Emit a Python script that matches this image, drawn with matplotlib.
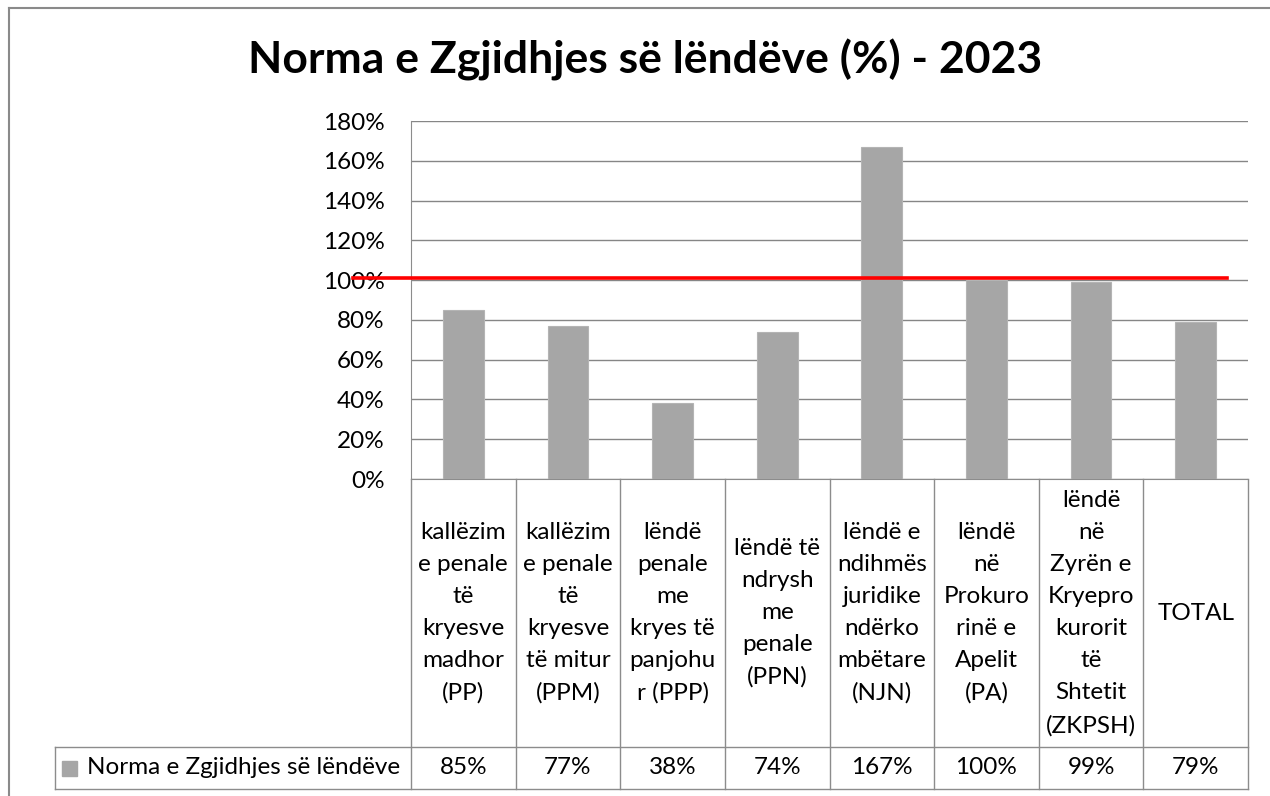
import matplotlib
matplotlib.use("Agg")
import matplotlib.pyplot as plt
from matplotlib.lines import Line2D
from matplotlib.patches import Rectangle
from matplotlib.ticker import PercentFormatter

plt.rcParams['font.family'] = ['Lato', 'DejaVu Sans']

# data
title = "Norma e Zgjidhjes së lëndëve (%) - 2023"
series_name = "Norma e Zgjidhjes së lëndëve"
categories = [
    "kallëzim\ne penale\ntë\nkryesve\nmadhor\n(PP)",
    "kallëzim\ne penale\ntë\nkryesve\ntë mitur\n(PPM)",
    "lëndë\npenale\nme\nkryes të\npanjohu\nr (PPP)",
    "lëndë të\nndrysh\nme\npenale\n(PPN)",
    "lëndë e\nndihmës\njuridike\nndërko\nmbëtare\n(NJN)",
    "lëndë\nnë\nProkuro\nrinë e\nApelit\n(PA)",
    "lëndë\nnë\nZyrën e\nKryepro\nkurorit\ntë\nShtetit\n(ZKPSH)",
    "TOTAL",
]
values = [0.85, 0.77, 0.38, 0.74, 1.67, 1.00, 0.99, 0.79]
value_labels = ["85%", "77%", "38%", "74%", "167%", "100%", "99%", "79%"]
target = 1.01

W, H = 1270, 796
bar_color = "#a6a6a6"
line_gray = "#8c8c8c"
fs = 17.5


def fx(x):
    return x / W


def fy(y):
    return 1 - y / H


fig = plt.figure(figsize=(12.7, 7.96), dpi=100)
ax = fig.add_axes([fx(411), fy(479), fx(1248) - fx(411), fy(121) - fy(479)])

x = list(range(len(values)))
ax.bar(x, values, width=0.39, color=bar_color, edgecolor="#b4b4b4", linewidth=0.8, zorder=3)
ax.set_xlim(-0.5, len(values) - 0.5)
ax.set_ylim(0, 1.8)
ax.set_yticks([i * 0.2 for i in range(10)])
ax.yaxis.set_major_formatter(PercentFormatter(1.0, decimals=0))
ax.tick_params(axis='y', length=0, pad=19, labelsize=fs)
ax.tick_params(axis='x', length=0, labelbottom=False)
ax.grid(axis='y', color="#868686", linewidth=1.0, zorder=0)
for s in ['top', 'right']:
    ax.spines[s].set_visible(False)
ax.spines['left'].set_color(line_gray)
ax.spines['bottom'].set_color(line_gray)

# red reference line at 100%
ax.plot([-1.05, 7.3], [target, target], color="#ff0000", linewidth=2.6, clip_on=False, zorder=5)

fig.text(fx(645), fy(60), title, ha='center', va='center', fontsize=32, fontweight='bold')

# data table under the chart
tf = fig.transFigure
col_w = (1248 - 411) / len(values)
edges = [411 + i * col_w for i in range(len(values) + 1)]
for e in edges:
    fig.add_artist(Line2D([fx(e), fx(e)], [fy(479), fy(789)], color=line_gray, lw=1.0, transform=tf))
for yy in [747, 789]:
    fig.add_artist(Line2D([fx(55), fx(1248)], [fy(yy), fy(yy)], color=line_gray, lw=1.0, transform=tf))
fig.add_artist(Line2D([fx(55), fx(55)], [fy(747), fy(789)], color=line_gray, lw=1.0, transform=tf))

for i, (cat, lab) in enumerate(zip(categories, value_labels)):
    cx = (edges[i] + edges[i + 1]) / 2
    fig.text(fx(cx), fy(613), cat, ha='center', va='center', fontsize=fs, linespacing=1.65)
    fig.text(fx(cx), fy(768), lab, ha='center', va='center', fontsize=fs)

fig.add_artist(Rectangle((fx(62), fy(776)), fx(15), fy(761) - fy(776), color=bar_color, transform=tf))
fig.text(fx(87), fy(768), series_name, ha='left', va='center', fontsize=fs)

# outer frame
fig.add_artist(Line2D([fx(9), fx(9)], [fy(8), 0], color="#8a8a8a", lw=1.5, transform=tf))
fig.add_artist(Line2D([fx(9), 1], [fy(8), fy(8)], color="#8a8a8a", lw=1.5, transform=tf))

fig.savefig("out.png", dpi=100)
